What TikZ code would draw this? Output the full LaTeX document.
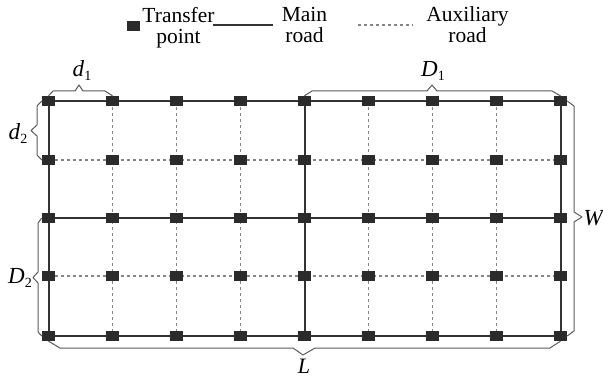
\documentclass[tikz,border=0pt]{standalone}
\usepackage{fontspec}
\setmainfont{Liberation Serif}
\pgfdeclarelayer{bg}
\pgfsetlayers{bg,main}
\definecolor{sqcol}{HTML}{2B2B2B}
\definecolor{maincol}{HTML}{333333}
\definecolor{auxcol}{HTML}{858585}
\definecolor{bracecol}{HTML}{5A5A5A}
\newcommand{\sublbl}[2]{\textit{#1}\raisebox{-4pt}{\fontsize{14}{14}\selectfont #2}}
\begin{document}
\begin{tikzpicture}[x=1pt,y=-1pt,
  tpoint/.style={fill=sqcol,draw=none,minimum width=13pt,minimum height=10pt,inner sep=0pt},
  mainroad/.style={draw=maincol,line width=2pt},
  auxroad/.style={draw=auxcol,line width=1.8pt,dash pattern=on 3pt off 3pt},
  bracel/.style={draw=bracecol,line width=1pt,line join=round},
  lgtext/.style={font=\fontsize{21.5}{21}\selectfont,inner sep=0pt,anchor=north,align=center},
  lbl/.style={font=\fontsize{23}{23}\selectfont,inner sep=0pt}]
\useasboundingbox (0,0) rectangle (603,377);
% grid nodes
\foreach \r/\yy in {1/101,2/160,3/218,4/276,5/336}{
  \foreach \c in {1,...,9}{
    \node[tpoint] (p-\r-\c) at ({48.5+64*(\c-1)},\yy) {};
  }
}
\begin{pgfonlayer}{bg}
% auxiliary roads
\foreach \r in {2,4}{\draw[auxroad] (p-\r-1.center) -- (p-\r-9.center);}
\foreach \c in {2,3,4,6,7,8}{\draw[auxroad] (p-1-\c.center) -- (p-5-\c.center);}
% main roads
\foreach \r in {1,3,5}{\draw[mainroad] (p-\r-1.center) -- (p-\r-9.center);}
\foreach \c in {1,5,9}{\draw[mainroad] (p-1-\c.center) -- (p-5-\c.center);}
\end{pgfonlayer}
% braces
\draw[bracel] (p-1-1.north) -- (53,91) -- (75,91) -- (79,85) -- (83,91) -- (105,91) -- (p-1-2.north);
\node[lbl] (d1) at (82,71) {\sublbl{d}{1}};
\draw[bracel] (p-1-1.west) -- (37,106) -- (37,125) -- (31,130.5) -- (37,136) -- (37,155) -- (p-2-1.west);
\node[lbl] (d2) at (18,134) {\sublbl{d}{2}};
\draw[bracel] (p-3-1.west) -- (38,223) -- (38,272) -- (33,277.5) -- (38,283) -- (38,332) -- (p-5-1.west);
\node[lbl] (D2) at (20,278) {\sublbl{D}{2}};
\draw[bracel] (p-5-1.south) -- (60,348) -- (293,348) -- (303,355) -- (315,348) -- (550,348) -- (p-5-9.south);
\node[lbl,font=\fontsize{22}{22}\selectfont] (L) at (304,366) {\textit{L}};
\draw[bracel] (p-1-5.north) -- (312,91) -- (427,91) -- (432,85) -- (437,91) -- (552,91) -- (p-1-9.north);
\node[lbl] (D1) at (433,71) {\sublbl{D}{1}};
\draw[bracel] (p-1-9.east) -- (574,106) -- (574,212) -- (582,217) -- (574,222) -- (574,331) -- (p-5-9.east);
\node[lbl] (W) at (594,218) {\textit{W}};
% legend
\node[tpoint] (lg-sq) at (133,26.5) {};
\node[lgtext] (lg-t) at (178.5,7) {Transfer\\point};
\coordinate (lg-m1) at (213,25);
\coordinate (lg-m2) at (273,25);
\draw[mainroad] (lg-m1) -- (lg-m2);
\node[lgtext] (lg-m) at (304.5,7) {Main\\road};
\coordinate (lg-a1) at (358,25);
\coordinate (lg-a2) at (413,25);
\draw[auxroad,line width=1.2pt] (lg-a1) -- (lg-a2);
\node[lgtext] (lg-a) at (467.5,6.5) {Auxiliary\\road};
\end{tikzpicture}
\end{document}
